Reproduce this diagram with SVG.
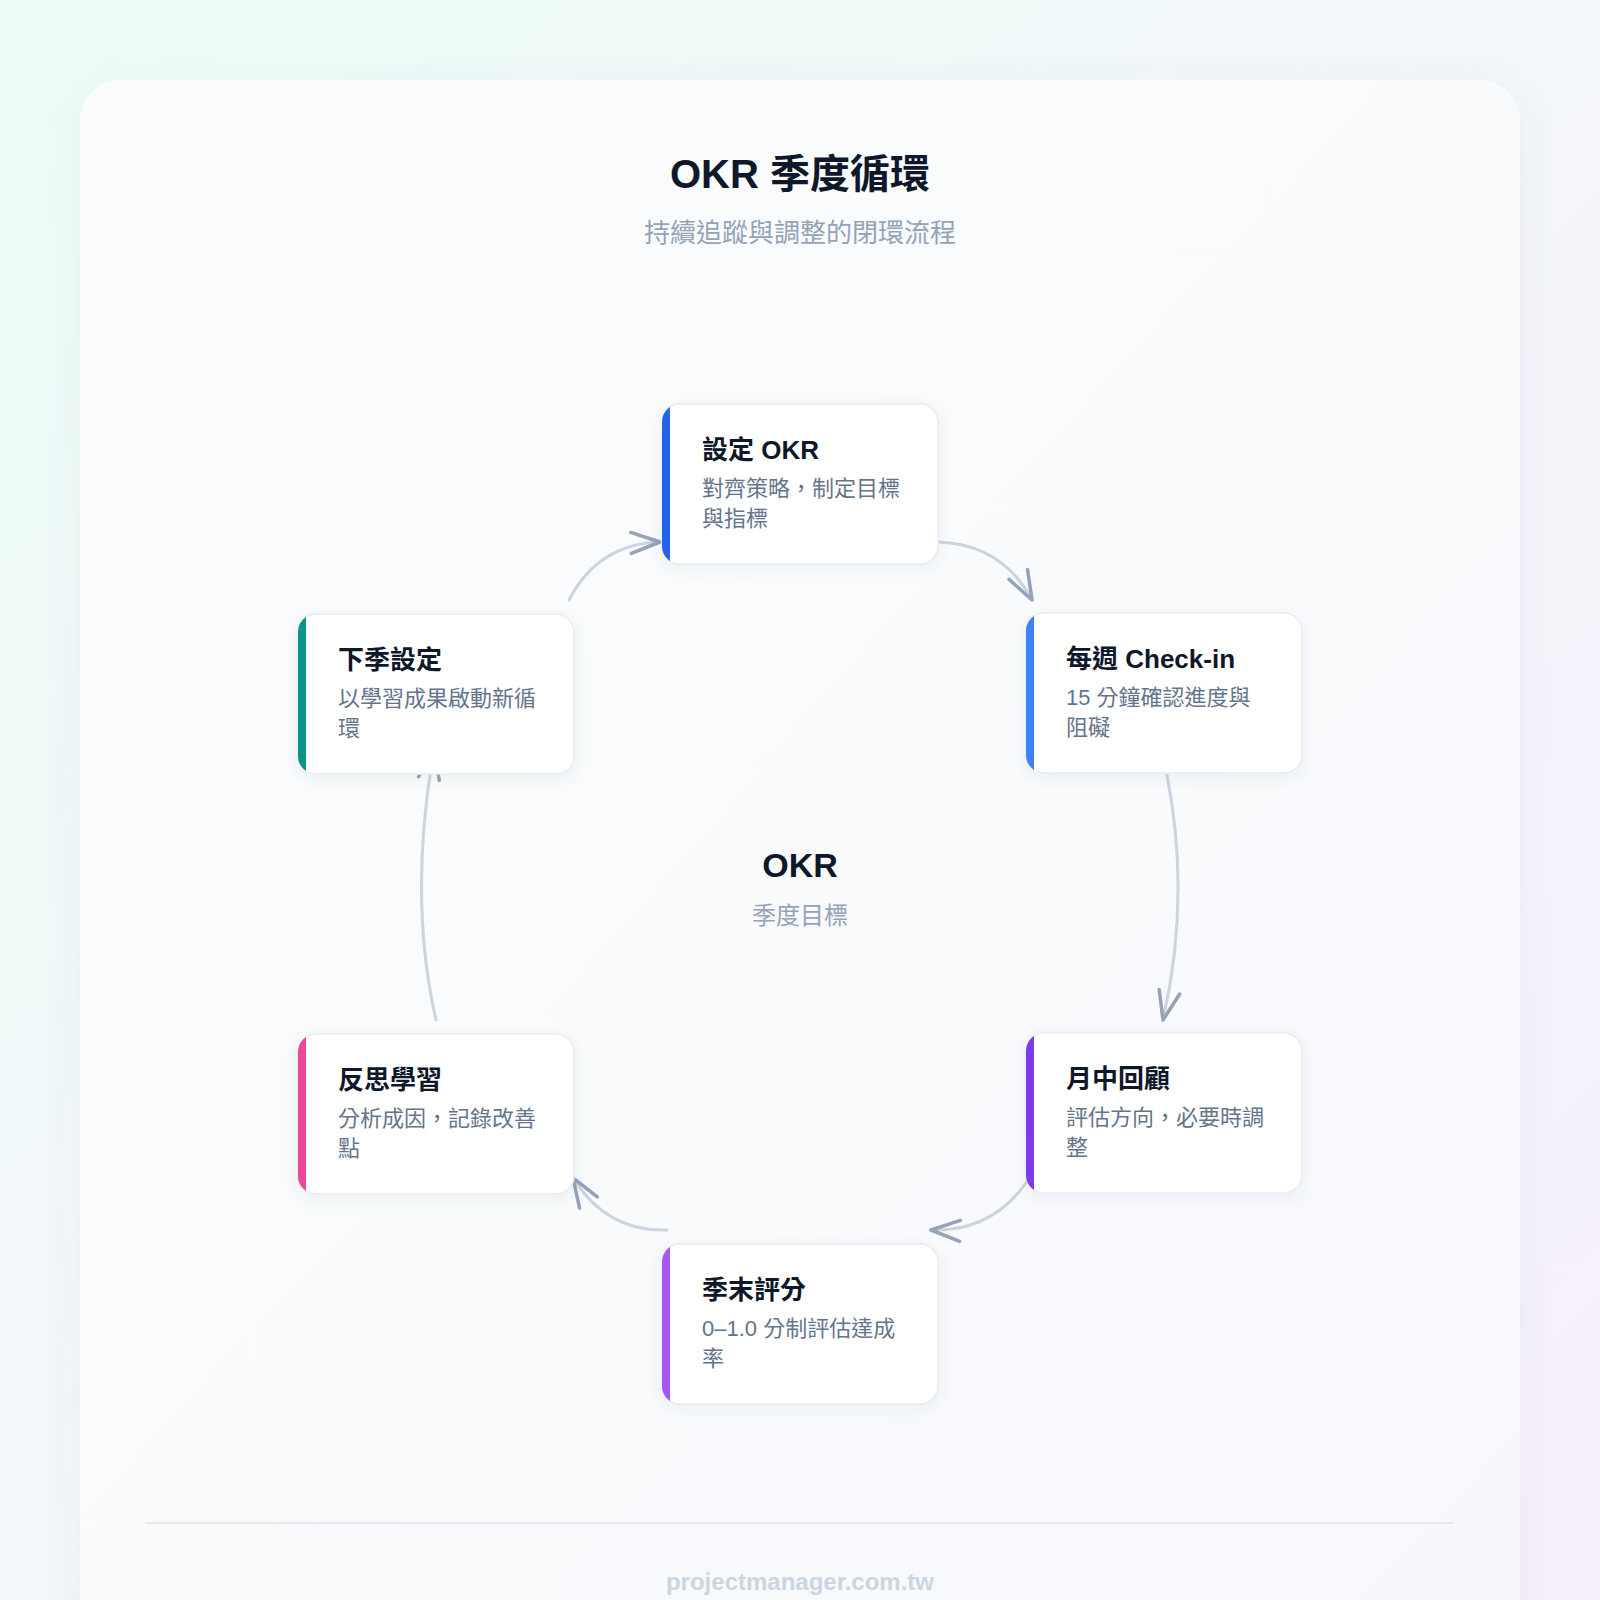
<svg xmlns="http://www.w3.org/2000/svg" width="1600" height="1600" viewBox="0 0 1600 1600">
  <defs>
    <linearGradient id="bg" x1="0" y1="0" x2="1" y2="1">
      <stop offset="0" stop-color="#ecfcf6"/>
      <stop offset="0.5" stop-color="#f3f6fa"/>
      <stop offset="1" stop-color="#f6effc"/>
    </linearGradient>
    <linearGradient id="panelFill" x1="0" y1="0" x2="1" y2="1">
      <stop offset="0" stop-color="#fafcfc"/>
      <stop offset="1" stop-color="#f7f8fc"/>
    </linearGradient>
    <filter id="panelShadow" x="-10%" y="-10%" width="120%" height="120%">
      <feDropShadow dx="0" dy="8" stdDeviation="18" flood-color="#64748b" flood-opacity="0.07"/>
    </filter>
    <filter id="cardShadow" x="-20%" y="-20%" width="140%" height="150%">
      <feDropShadow dx="0" dy="4" stdDeviation="7" flood-color="#475569" flood-opacity="0.07"/>
    </filter>
    <clipPath id="cardClip">
      <rect x="0" y="0" width="276" height="160" rx="18" ry="18"/>
    </clipPath>
    <marker id="arrow" markerUnits="userSpaceOnUse" viewBox="-4 -15 38 30" markerWidth="38" markerHeight="30" refX="29" refY="0" orient="auto">
      <path d="M0,-10.5 L29,0 L0,10.5" fill="none" stroke="#94a3b8" stroke-width="3.5" stroke-linecap="round" stroke-linejoin="round"/>
    </marker>
    <style>
      .t { font-family: "Liberation Sans", "Noto Sans CJK TC", sans-serif; }
      .title { font-size: 40px; font-weight: 700; fill: #0f172a; }
      .subtitle { font-size: 26px; fill: #94a3b8; }
      .center1 { font-size: 34px; font-weight: 700; fill: #0f172a; }
      .center2 { font-size: 24px; fill: #94a3b8; }
      .card { fill: #ffffff; stroke: #e8ecf1; stroke-width: 1.5; }
      .ntitle { font-size: 26px; font-weight: 700; fill: #0f172a; }
      .ndesc { font-size: 22px; fill: #64748b; }
      .conn { fill: none; stroke: #cbd3de; stroke-width: 3; stroke-linecap: round; marker-end: url(#arrow); }
      .footer { font-size: 24px; font-weight: 700; fill: #cbd5e1; }
    </style>
  </defs>

  <rect x="0" y="0" width="1600" height="1600" fill="url(#bg)"/>
  <rect x="80" y="80" width="1440" height="1600" rx="40" ry="40" fill="url(#panelFill)" filter="url(#panelShadow)"/>

  <text class="t title" x="800" y="188" text-anchor="middle">OKR 季度循環</text>
  <text class="t subtitle" x="800" y="242" text-anchor="middle">持續追蹤與調整的閉環流程</text>

  <g id="connectors">
    <path class="conn" d="M938,542 Q1002,544 1032,600"/>
    <path class="conn" d="M1167,775 Q1191,897 1163,1020"/>
    <path class="conn" d="M1028,1180 Q993,1232 931,1230"/>
    <path class="conn" d="M667,1230 Q607,1232 573,1178"/>
    <path class="conn" d="M436,1020 Q408,897 434,750"/>
    <path class="conn" d="M569,600 Q598,544 660,542"/>
  </g>

  <g id="center">
    <text class="t center1" x="800" y="877" text-anchor="middle">OKR</text>
    <text class="t center2" x="800" y="924" text-anchor="middle">季度目標</text>
  </g>

  <g id="node-set" transform="translate(662,404)">
    <rect class="card" x="0" y="0" width="276" height="160" rx="18" ry="18" filter="url(#cardShadow)"/>
    <rect x="0" y="0" width="8" height="160" fill="#2563eb" clip-path="url(#cardClip)"/>
    <text class="t ntitle" x="40" y="55">設定 OKR</text>
    <text class="t ndesc" x="40" y="92">對齊策略，制定目標</text>
    <text class="t ndesc" x="40" y="122">與指標</text>
  </g>

  <g id="node-weekly" transform="translate(1026,613)">
    <rect class="card" x="0" y="0" width="276" height="160" rx="18" ry="18" filter="url(#cardShadow)"/>
    <rect x="0" y="0" width="8" height="160" fill="#3b82f6" clip-path="url(#cardClip)"/>
    <text class="t ntitle" x="40" y="55">每週 Check-in</text>
    <text class="t ndesc" x="40" y="92">15 分鐘確認進度與</text>
    <text class="t ndesc" x="40" y="122">阻礙</text>
  </g>

  <g id="node-monthly" transform="translate(1026,1033)">
    <rect class="card" x="0" y="0" width="276" height="160" rx="18" ry="18" filter="url(#cardShadow)"/>
    <rect x="0" y="0" width="8" height="160" fill="#7c3aed" clip-path="url(#cardClip)"/>
    <text class="t ntitle" x="40" y="55">月中回顧</text>
    <text class="t ndesc" x="40" y="92">評估方向，必要時調</text>
    <text class="t ndesc" x="40" y="122">整</text>
  </g>

  <g id="node-score" transform="translate(662,1244)">
    <rect class="card" x="0" y="0" width="276" height="160" rx="18" ry="18" filter="url(#cardShadow)"/>
    <rect x="0" y="0" width="8" height="160" fill="#a855f7" clip-path="url(#cardClip)"/>
    <text class="t ntitle" x="40" y="55">季末評分</text>
    <text class="t ndesc" x="40" y="92">0–1.0 分制評估達成</text>
    <text class="t ndesc" x="40" y="122">率</text>
  </g>

  <g id="node-reflect" transform="translate(298,1034)">
    <rect class="card" x="0" y="0" width="276" height="160" rx="18" ry="18" filter="url(#cardShadow)"/>
    <rect x="0" y="0" width="8" height="160" fill="#ec4899" clip-path="url(#cardClip)"/>
    <text class="t ntitle" x="40" y="55">反思學習</text>
    <text class="t ndesc" x="40" y="92">分析成因，記錄改善</text>
    <text class="t ndesc" x="40" y="122">點</text>
  </g>

  <g id="node-next" transform="translate(298,614)">
    <rect class="card" x="0" y="0" width="276" height="160" rx="18" ry="18" filter="url(#cardShadow)"/>
    <rect x="0" y="0" width="8" height="160" fill="#0d9488" clip-path="url(#cardClip)"/>
    <text class="t ntitle" x="40" y="55">下季設定</text>
    <text class="t ndesc" x="40" y="92">以學習成果啟動新循</text>
    <text class="t ndesc" x="40" y="122">環</text>
  </g>

  <line x1="146" y1="1523" x2="1454" y2="1523" stroke="#e6e9ee" stroke-width="2"/>
  <text class="t footer" x="800" y="1590" text-anchor="middle">projectmanager.com.tw</text>
</svg>
